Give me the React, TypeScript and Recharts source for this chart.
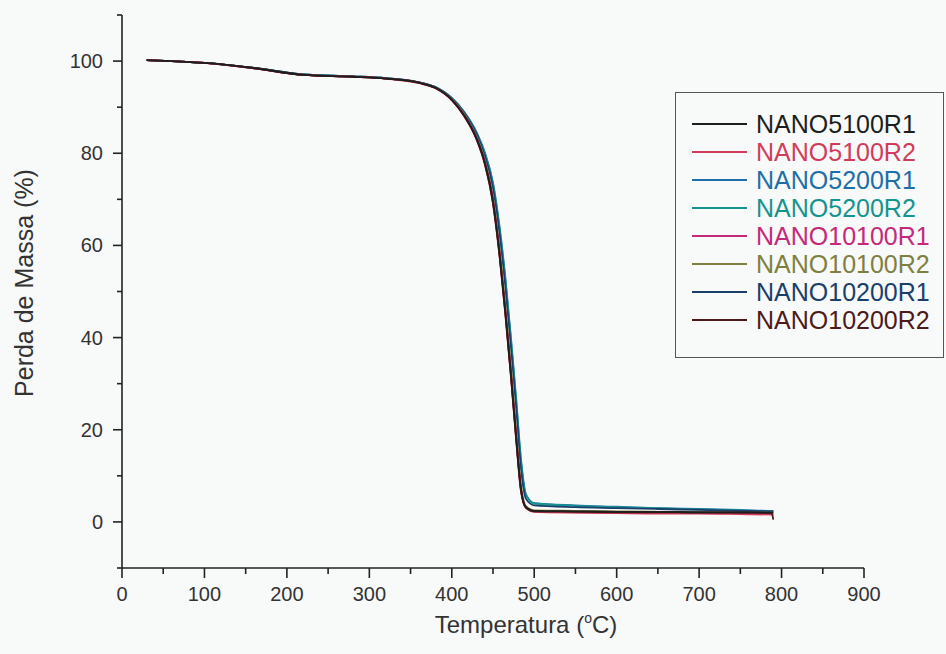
import { LineChart, Line, XAxis, YAxis, Legend, Label } from 'recharts'

const FONT = '"Liberation Sans", Arial, Helvetica, sans-serif'

// temperatura (°C) e perda de massa (%)
const temperatura = [30, 60, 100, 160, 220, 280, 320, 360, 380, 400, 415, 430, 440, 450, 458, 465, 472, 478, 484, 490, 500, 550, 600, 650, 700, 750, 788, 790]

const nano5100R1 = [100.2, 100.0, 99.6, 98.5, 97.0, 96.6, 96.2, 95.3, 94.2, 91.6, 88.2, 83.2, 78.0, 69.5, 58.0, 45.5, 31.5, 18.5, 7.0, 3.2, 2.4, 2.3, 2.2, 2.2, 2.1, 2.1, 2.0, 2.0]
const nano5100R2 = [100.2, 100.0, 99.6, 98.4, 97.0, 96.6, 96.2, 95.2, 94.1, 91.5, 88.0, 83.0, 77.6, 69.0, 57.5, 45.0, 31.0, 18.0, 6.5, 3.0, 2.2, 2.0, 1.9, 1.8, 1.8, 1.7, 1.6, 1.6]
const nano5200R1 = [100.2, 100.0, 99.6, 98.5, 97.1, 96.7, 96.3, 95.4, 94.4, 92.0, 89.0, 84.6, 80.2, 73.6, 64.0, 53.0, 39.5, 27.0, 13.5, 6.0, 4.1, 3.6, 3.3, 3.0, 2.8, 2.6, 2.4, 2.4]
const nano5200R2 = [100.2, 100.0, 99.6, 98.5, 97.1, 96.7, 96.3, 95.4, 94.4, 92.0, 88.9, 84.4, 80.0, 73.2, 63.5, 52.5, 39.0, 26.5, 13.0, 5.8, 4.0, 3.5, 3.2, 3.0, 2.7, 2.5, 2.4, 2.4]
const nano10100R1 = [100.2, 100.0, 99.6, 98.4, 97.0, 96.6, 96.2, 95.3, 94.2, 91.7, 88.3, 83.4, 78.2, 70.0, 58.5, 46.0, 32.0, 19.0, 7.0, 3.1, 2.3, 2.1, 2.0, 1.9, 1.9, 1.8, 1.7, 1.7]
const nano10100R2 = [100.2, 100.0, 99.6, 98.5, 97.0, 96.6, 96.2, 95.3, 94.2, 91.8, 88.5, 83.6, 78.6, 70.5, 59.5, 47.0, 33.5, 20.5, 8.0, 3.4, 2.5, 2.4, 2.3, 2.2, 2.1, 2.0, 2.0, 2.0]
const nano10200R1 = [100.2, 100.0, 99.6, 98.5, 97.1, 96.7, 96.3, 95.4, 94.3, 91.9, 88.8, 84.2, 79.5, 72.5, 62.5, 51.0, 37.5, 25.0, 11.5, 5.0, 3.6, 3.2, 3.0, 2.8, 2.6, 2.4, 2.3, 2.3]
const nano10200R2 = [100.2, 100.0, 99.6, 98.5, 97.0, 96.6, 96.2, 95.3, 94.2, 91.6, 88.2, 83.1, 77.8, 69.2, 57.8, 45.2, 31.2, 18.2, 6.8, 3.1, 2.3, 2.2, 2.1, 2.1, 2.0, 2.0, 1.9, 0.5]

const xTicks = [0, 50, 100, 150, 200, 250, 300, 350, 400, 450, 500, 550, 600, 650, 700, 750, 800, 850, 900]
const yTicks = [-10, 0, 10, 20, 30, 40, 50, 60, 70, 80, 90, 100, 110]

// legend order
const series = [
  { key: 'nano5100R1', name: 'NANO5100R1', color: '#1e1e1e', values: nano5100R1 },
  { key: 'nano5100R2', name: 'NANO5100R2', color: '#d23c5a', values: nano5100R2 },
  { key: 'nano5200R1', name: 'NANO5200R1', color: '#1e6ea8', values: nano5200R1 },
  { key: 'nano5200R2', name: 'NANO5200R2', color: '#14948f', values: nano5200R2 },
  { key: 'nano10100R1', name: 'NANO10100R1', color: '#c42a7a', values: nano10100R1 },
  { key: 'nano10100R2', name: 'NANO10100R2', color: '#7f8040', values: nano10100R2 },
  { key: 'nano10200R1', name: 'NANO10200R1', color: '#1b3f6b', values: nano10200R1 },
  { key: 'nano10200R2', name: 'NANO10200R2', color: '#4e1a1a', values: nano10200R2 },
]

// blue ones underneath, dark ones on top
const drawOrder = ['nano5200R1', 'nano5200R2', 'nano10200R1', 'nano10100R2', 'nano10100R1', 'nano5100R2', 'nano10200R2', 'nano5100R1']

const data = temperatura.map((t, i) => {
  const row: Record<string, number> = { t }
  series.forEach(s => { row[s.key] = s.values[i] })
  return row
})

const AXIS = '#222'

const XTick = (props: any) => {
  const { x, y, payload } = props
  const major = payload.value % 100 === 0
  return (
    <g>
      <line x1={x} y1={y} x2={x} y2={y + (major ? 10 : 6)} stroke={AXIS} strokeWidth={1.6} />
      {major && (
        <text x={x} y={y + 33} textAnchor="middle" fontSize={20} fontFamily={FONT} fill="#333">
          {payload.value}
        </text>
      )}
    </g>
  )
}

const YTick = (props: any) => {
  const { x, y, payload } = props
  const major = payload.value % 20 === 0
  return (
    <g>
      <line x1={x} y1={y} x2={x - (major ? 9 : 5)} y2={y} stroke={AXIS} strokeWidth={1.6} />
      {major && (
        <text x={x - 19} y={y + 7} textAnchor="end" fontSize={20} fontFamily={FONT} fill="#333">
          {payload.value}
        </text>
      )}
    </g>
  )
}

const XTitle = (props: any) => {
  const { viewBox } = props
  return (
    <text x={viewBox.x + 404} y={viewBox.y + 65} textAnchor="middle" fontSize={24} fontFamily={FONT} fill="#333">
      Temperatura (<tspan dy={-10} fontSize={14}>o</tspan><tspan dy={10}>C)</tspan>
    </text>
  )
}

const YTitle = () => (
  <text x={33} y={283} transform="rotate(-90, 33, 283)" textAnchor="middle" fontSize={25} fontFamily={FONT} fill="#333">
    Perda de Massa (%)
  </text>
)

const LegendBox = () => (
  <div style={{ border: '1px solid #555', width: 269, height: 266, boxSizing: 'border-box', paddingTop: 17 }}>
    {series.map(s => (
      <div key={s.key} style={{ display: 'flex', alignItems: 'center', height: 28 }}>
        <div style={{ width: 55, borderTop: `2px solid ${s.color}`, marginLeft: 16, marginRight: 9 }} />
        <span style={{ color: s.color, fontSize: 25, fontFamily: FONT, lineHeight: '28px' }}>{s.name}</span>
      </div>
    ))}
  </div>
)

export default function App() {
  return (
    <div style={{ position: 'absolute', left: 0, top: 0, width: 946, height: 654, background: '#f8f9f9' }}>
      <LineChart width={946} height={654} data={data} margin={{ top: 15, right: 82, bottom: 0, left: 0 }}>
        <XAxis
          dataKey="t"
          type="number"
          domain={[0, 900]}
          ticks={xTicks}
          interval={0}
          height={86}
          tickSize={0}
          tickMargin={0}
          tickLine={false}
          tick={<XTick />}
          axisLine={{ stroke: AXIS, strokeWidth: 1.6 }}
        >
          <Label content={<XTitle />} />
        </XAxis>
        <YAxis
          type="number"
          domain={[-10, 110]}
          ticks={yTicks}
          interval={0}
          width={122}
          tickSize={0}
          tickMargin={0}
          tickLine={false}
          tick={<YTick />}
          axisLine={{ stroke: AXIS, strokeWidth: 1.6 }}
        >
          <Label content={<YTitle />} />
        </YAxis>
        <Legend
          layout="vertical"
          align="center"
          verticalAlign="middle"
          content={<LegendBox />}
          wrapperStyle={{ left: 675, top: 92, width: 269, height: 266 }}
        />
        {drawOrder.map(k => {
          const s = series.find(x => x.key === k)!
          return (
            <Line
              key={s.key}
              type="monotone"
              dataKey={s.key}
              name={s.name}
              stroke={s.color}
              strokeWidth={1.8}
              dot={false}
              activeDot={false}
              isAnimationActive={false}
            />
          )
        })}
      </LineChart>
    </div>
  )
}
